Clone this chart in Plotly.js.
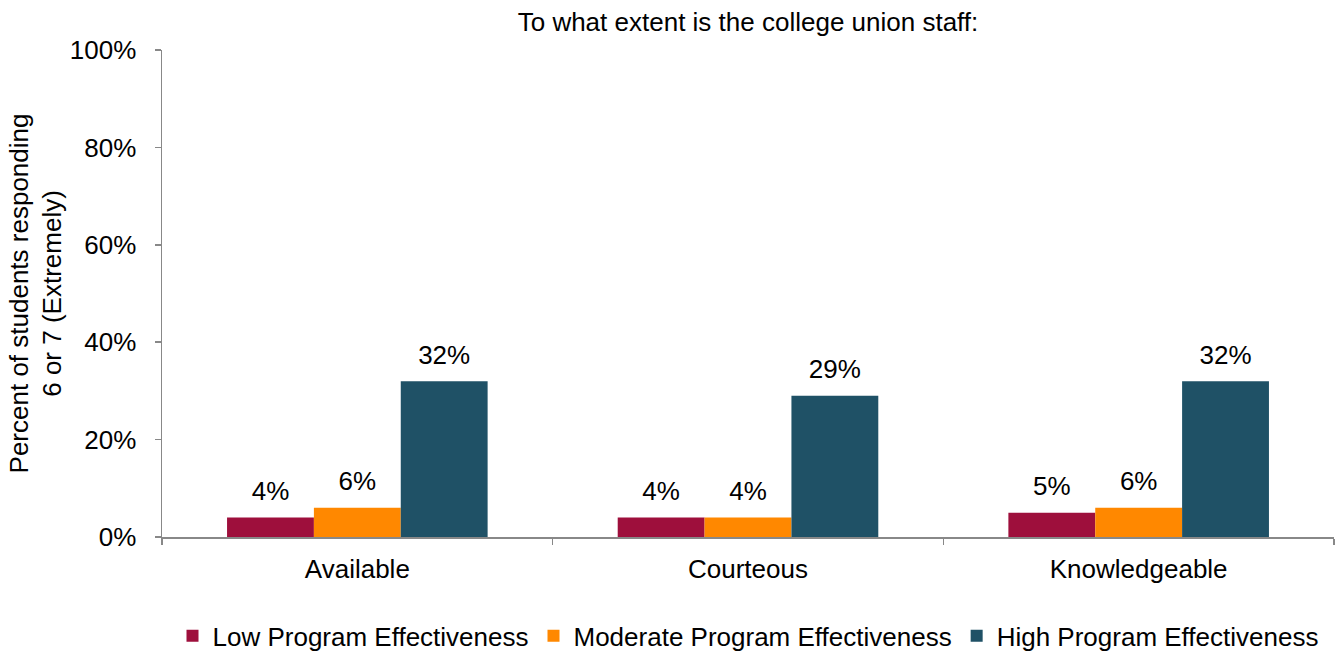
<!DOCTYPE html>
<html>
<head>
<meta charset="utf-8">
<script src="https://cdn.plot.ly/plotly-3.0.1.min.js"></script>
<style>html,body{margin:0;padding:0;background:#fff;}#chart{width:1339px;height:652px;}</style>
</head>
<body>
<div id="chart"></div>
<script>
const categories = ["Available", "Courteous", "Knowledgeable"];
const seriesNames = ["Low Program Effectiveness", "Moderate Program Effectiveness", "High Program Effectiveness"];
const lowValues = [4, 4, 5];
const moderateValues = [6, 4, 6];
const highValues = [32, 29, 32];
const yTickValues = [0, 20, 40, 60, 80, 100];
const yTickLabels = ["0%", "20%", "40%", "60%", "80%", "100%"];
const colors = ["#9E0F3C", "#FF8800", "#1F5166"];

const font = "Liberation Sans, Arial, sans-serif";
const allValues = [lowValues, moderateValues, highValues];
const barTraces = allValues.map((vals, i) => ({
  type: "bar",
  name: seriesNames[i],
  x: categories,
  y: vals,
  marker: {color: colors[i]},
  hoverinfo: "skip"
}));
const labelTraces = allValues.map((vals, i) => ({
  type: "scatter",
  mode: "markers+text",
  name: seriesNames[i] + " labels",
  showlegend: false,
  x: categories,
  y: vals,
  marker: {size: 16, opacity: 0, color: colors[i]},
  text: vals.map(v => v + "%"),
  textposition: "top center",
  textfont: {family: font, size: 26, color: "#000"},
  cliponaxis: false,
  hoverinfo: "skip"
}));

const layout = {
  width: 1339, height: 652,
  margin: {l: 162, r: 5, t: 50, b: 115, autoexpand: false},
  paper_bgcolor: "#fff", plot_bgcolor: "#fff",
  font: {family: font, size: 26, color: "#000"},
  title: {text: "To what extent is the college union staff:", font: {family: font, size: 26, color: "#000"},
          x: 0.5, xanchor: "center", xref: "paper", y: 1 - 22/652, yref: "container", yanchor: "middle"},
  barmode: "group",
  bargap: 0.333,
  bargroupgap: 0,
  scattermode: "group",
  scattergap: 0.333,
  showlegend: true,
  legend: {orientation: "h", x: 0.5, xanchor: "center", y: -0.203, yanchor: "middle",
           font: {family: font, size: 26, color: "#000"}, traceorder: "normal", itemwidth: 30},
  xaxis: {
    showline: true, linecolor: "#888", linewidth: 1.5,
    ticks: "outside", tickson: "boundaries", ticklen: 6, tickcolor: "#888", tickwidth: 1.5,
    tickfont: {family: font, size: 26, color: "#000"}, ticklabelstandoff: 8,
    showgrid: false, zeroline: false
  },
  yaxis: {
    range: [0, 100], tickvals: yTickValues, ticktext: yTickLabels,
    showline: true, linecolor: "#888", linewidth: 1.5,
    ticks: "outside", ticklen: 6, tickcolor: "#888", tickwidth: 1.5,
    tickfont: {family: font, size: 26, color: "#000"}, ticklabelstandoff: 13,
    showgrid: false, zeroline: false,
    title: {text: "Percent of students responding<br>6 or 7 (Extremely)", font: {family: font, size: 26, color: "#000"}, standoff: 0}
  }
};

Plotly.newPlot("chart", barTraces.concat(labelTraces), layout, {displayModeBar: false, staticPlot: true});
</script>
</body>
</html>
